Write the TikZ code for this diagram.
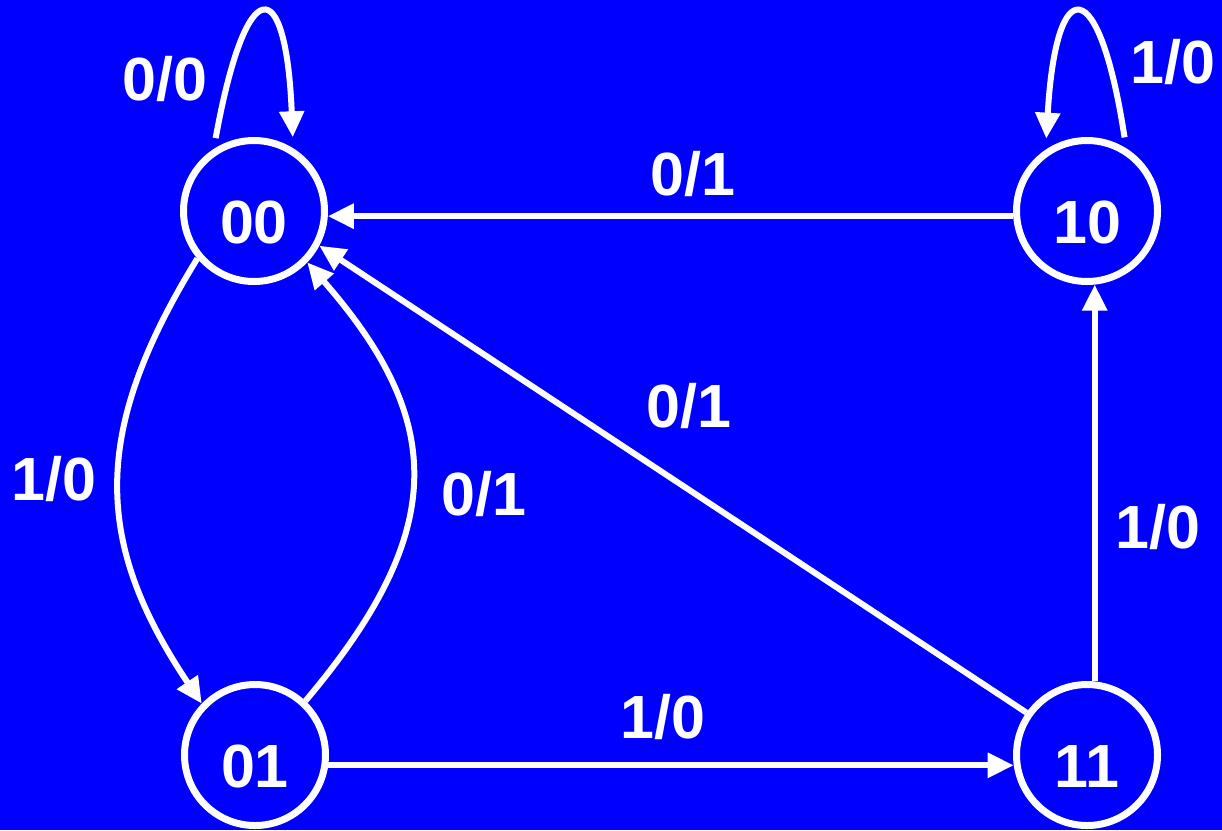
\documentclass[tikz,border=0pt]{standalone}
\usepackage{fontspec}
\setmainfont{Liberation Sans}
\usetikzlibrary{arrows.meta}
\definecolor{bg}{RGB}{0,0,255}
\begin{document}
\begin{tikzpicture}[x=1pt,y=-1pt,
  state/.style={circle, draw=white, line width=7pt, minimum size=141pt, inner sep=0pt,
    text=white, font=\fontsize{61}{61}\selectfont\bfseries, text height=65pt, text depth=0pt},
  lbl/.style={text=white, font=\fontsize{61}{61}\selectfont\bfseries, inner sep=0pt,
    text height=44pt, text depth=0pt},
  conn/.style={draw=white, line width=6pt, -{Triangle[length=26pt,width=24pt]}},
  loopgap/.style={shorten <=11pt, shorten >=11pt}
]
\fill[bg] (0,0) rectangle (1222,830);
\useasboundingbox (0,0) rectangle (1222,830);

\node[state] (n00) at (254,211) {00};
\node[state] (n10) at (1087,211) {10};
\node[state] (n01) at (255,755) {01};
\node[state] (n11) at (1087,755) {11};

\draw[conn, loopgap] (n00.123) .. controls (246,-29) and (286,-29) .. (n00.58);
\draw[conn, loopgap] (n10.58) .. controls (1099,-29) and (1056,-29) .. (n10.124);
\draw[conn] (n10.-176) -- (n00.-4);
\draw[conn] (n11.145) -- (n00.-28);
\draw[conn] (n11.84) -- (n10.-84);
\draw[conn] (n01.-8) -- (n11.-172);
\draw[conn] (n00.-140) .. controls (92,430) and (92,540) .. (n01.136);
\draw[conn] (n01.47) .. controls (450,530) and (445,420) .. (n00.-44);

\node[lbl] (t1) at (165,78) {0/0};
\node[lbl] (t2) at (1173,61) {1/0};
\node[lbl] (t3) at (693,173) {0/1};
\node[lbl] (t4) at (689,405) {0/1};
\node[lbl] (t5) at (54,478) {1/0};
\node[lbl] (t6) at (484,493) {0/1};
\node[lbl] (t7) at (1158,526) {1/0};
\node[lbl] (t8) at (663,716) {1/0};
\end{tikzpicture}
\end{document}
